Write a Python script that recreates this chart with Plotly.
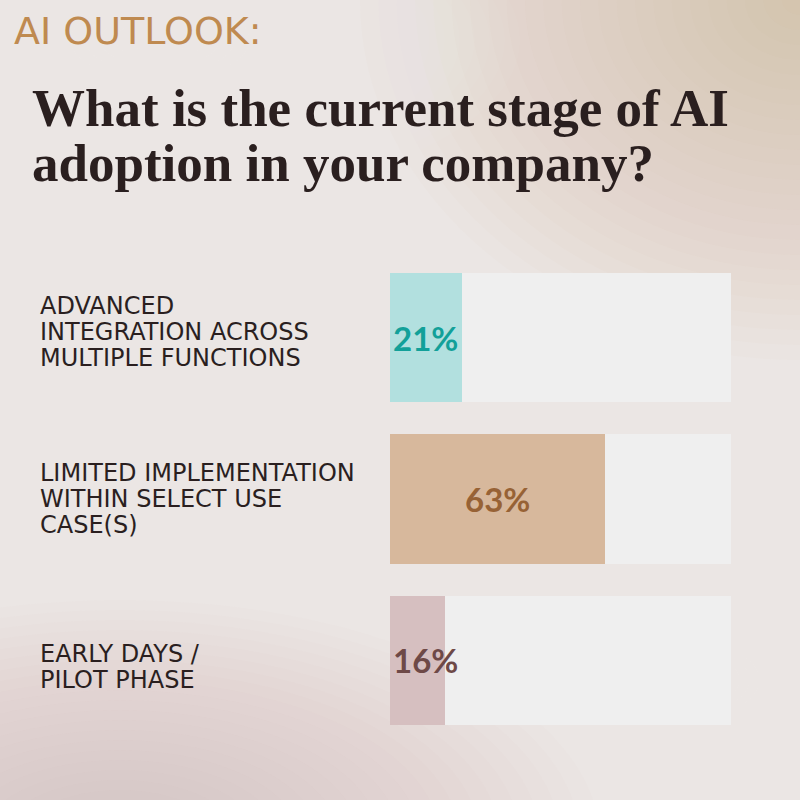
import plotly.graph_objects as go

categories = ["ADVANCED<br>INTEGRATION ACROSS<br>MULTIPLE FUNCTIONS",
              "LIMITED IMPLEMENTATION<br>WITHIN SELECT USE<br>CASE(S)",
              "EARLY DAYS /<br>PILOT PHASE"]
values = [21, 63, 16]
bar_colors = ["#b2e0df", "#d7b89c", "#d6bfc0"]
text_colors = ["#12a099", "#976235", "#6e4947"]
title_lines = ["What is the current stage of AI", "adoption in your company?"]
kicker = "AI OUTLOOK:"
track_total = 100

# layout-only: vertical nudges (px) of each category label block
label_nudge = [6, 0, -7]

pos = list(range(len(categories)))

fig = go.Figure()
fig.add_trace(go.Bar(x=[track_total] * len(pos), y=pos, orientation="h",
                     marker=dict(color="#efefef", line=dict(width=0)),
                     width=0.8, hoverinfo="skip", showlegend=False))
fig.add_trace(go.Bar(x=values, y=pos, orientation="h",
                     marker=dict(color=bar_colors, line=dict(width=0)),
                     width=0.8, showlegend=False))

# soft background gradients
shapes = []
def blob(cx, cy, rx, ry, color, n=24, op=0.025):
    for i in range(n):
        f = 1 - i / n
        shapes.append(dict(type="circle", xref="paper", yref="paper", layer="below",
                           x0=cx - rx * f, x1=cx + rx * f, y0=cy - ry * f, y1=cy + ry * f,
                           fillcolor=color, opacity=op, line=dict(width=0)))
blob(1.0, 1.0, 0.55, 0.45, "#c8a98f")
blob(0.15, -0.05, 0.6, 0.3, "#d8bea6")
blob(0.0, 0.42, 0.2, 0.22, "#e8eaee", op=0.012)
blob(0.2, 0.95, 0.45, 0.2, "#f8f5f4", op=0.03)
blob(0.85, 0.15, 0.3, 0.15, "#f6f1f1", op=0.025)

annotations = []
line_gap = 26
for p, lab, nud in zip(pos, categories, label_nudge):
    lines = lab.split("<br>")
    n = len(lines)
    for i, ln in enumerate(lines):
        annotations.append(dict(x=38 / 800, xref="paper", y=p, yref="y", text=ln,
                                yshift=((n - 1) / 2 - i) * line_gap + nud,
                                xanchor="left", yanchor="middle", align="left", showarrow=False,
                                font=dict(family="DejaVu Sans", size=24, color="#2a1f1f")))
min_center = 10.5
for p, v, c in zip(pos, values, text_colors):
    annotations.append(dict(x=max(v / 2, min_center), xref="x", y=p, yref="y", text=f"<b>{v}%</b>",
                            xanchor="center", yanchor="middle", showarrow=False,
                            font=dict(family="Lato", size=33, color=c)))
annotations.append(dict(x=12 / 800, xref="paper", y=1 - 31 / 800, yref="paper",
                        text=kicker, xanchor="left", yanchor="middle", showarrow=False,
                        font=dict(family="DejaVu Sans", size=38, color="#bf8a50")))
title_y = [108, 163]
for ty, tl in zip(title_y, title_lines):
    annotations.append(dict(x=30 / 800, xref="paper", y=1 - ty / 800, yref="paper",
                            text=f"<b>{tl}</b>", xanchor="left", yanchor="middle",
                            showarrow=False,
                            font=dict(family="Liberation Serif", size=53, color="#2a1f1f")))

fig.update_layout(
    width=800, height=800, margin=dict(l=0, r=0, t=0, b=0),
    paper_bgcolor="#ebe6e4", plot_bgcolor="rgba(0,0,0,0)",
    barmode="overlay", bargap=0,
    xaxis=dict(domain=[390 / 800, 731 / 800], range=[0, 100], visible=False, fixedrange=True),
    yaxis=dict(domain=[75 / 800, 527 / 800], range=[2.4, -0.4], visible=False, fixedrange=True),
    shapes=shapes, annotations=annotations,
)
fig.write_html("out.html")
